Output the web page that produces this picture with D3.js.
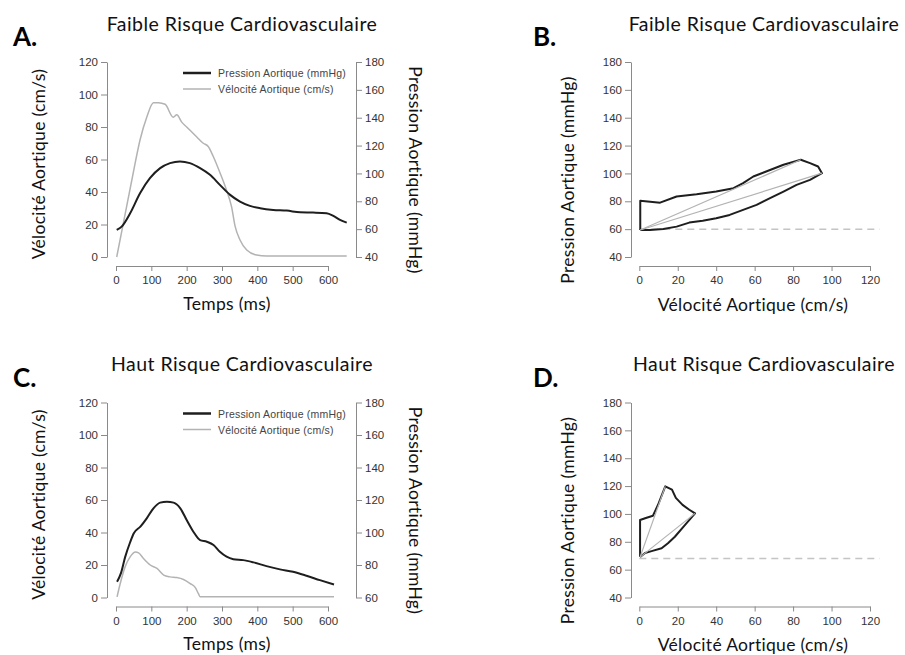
<!DOCTYPE html>
<html><head><meta charset="utf-8">
<script src="https://cdn.jsdelivr.net/npm/d3@7"></script>
<style>
body{margin:0;background:#fff;}
svg{display:block;}
</style></head>
<body>
<svg id="chart" width="905" height="655"></svg>
<script>
// ---------- DATA ----------
// Panel A : low risk, time series
const timeA_vel = [2,30,49,68,87,106,120,139,162,172,186,200,228,247,261,275,294,313,327,337,351,370,398,426,653];
const velA      = [0,31,52,72,86,95,95,94,86,87.5,83,80,74,70,68,62,52,41,31,19,10.5,4.3,1.2,0.6,0.6];
const timeA_pre = [2,16,40,68,96,125,153,181,209,238,266,294,323,351,379,408,445,483,521,558,596,615,634,653];
const presA     = [59.4,61.8,71.4,85.8,96.6,103.8,107.4,108.6,107.4,103.8,99,91.8,84.6,79.8,76.7,75,73.8,73.3,72.1,71.9,71.4,69.5,66.6,64.7];
// Panel C : high risk, time series
const timeC_vel = [3,12,26,40,55,64,78,97,116,135,153,172,191,210,224,233,238,617];
const velC      = [0.4,8.6,19,25,28,27.5,24,20,17.9,13.8,12.7,12.3,11.1,8.6,6.2,2.5,0.4,0.4];
const timeC_pre = [3,14,26,40,50,69,87,106,125,144,163,182,200,219,238,257,276,294,313,332,360,389,426,464,501,539,577,617];
const presC     = [69.7,75,85,94,99.4,103.6,108.7,114.9,118.4,119,118.4,114.9,107.7,100.5,95.3,94.3,92.3,88.1,85.1,83.6,83,81.6,79.3,77.3,75.8,73.4,70.7,68];
// Panel B : low risk, pressure-velocity loop
const velB  = [0.5,0.5,10.8,19.4,29.8,40,49,54,59.3,66,75,84,88.8,93,95,88.8,81.8,75,68,61,54,47,40,33,26,19.4,12.5,5.5,0.5];
const presB = [59.4,80.3,79,83.4,85,87,89.4,93,97.8,101.4,106.2,109.8,107.4,105,100.2,95.4,91.8,87,82.2,77.4,73.8,70.2,67.8,66.1,64.7,61.8,60.1,59.4,59.4];
const dashB = 60;
// Panel D : high risk, pressure-velocity loop
const velD  = [0.4,0.4,3.8,7.1,9.7,13.5,17,19,22.5,26,29,23.7,18.5,14.9,11.6,6.4,3,0.4];
const presD = [69,95.6,97.3,98.7,106.4,119.8,117.5,111.5,106.5,103,100.4,92,83.6,79,75.3,73.3,72,69];
const dashD = 68;
// ticks / labels
const timeTicks = [0,100,200,300,400,500,600];
const velTicks  = [0,20,40,60,80,100,120];
const presTicksA = [40,60,80,100,120,140,160,180];
const presTicksC = [60,80,100,120,140,160,180];
const presTicksLoop = [40,60,80,100,120,140,160,180];
const titles = ["Faible Risque Cardiovasculaire","Haut Risque Cardiovasculaire"];
const letters = ["A.","B.","C.","D."];
const legendLabels = ["Pression Aortique (mmHg)","Vélocité Aortique (cm/s)"];
const xTitleTime = "Temps (ms)";
const velTitle = "Vélocité Aortique (cm/s)";
const presTitle = "Pression Aortique (mmHg)";

// ---------- STYLE ----------
const svg = d3.select("#chart");
const TITLE_FONT = "Lato, 'Open Sans', sans-serif";
const TICK_FONT = "'Liberation Sans', Arial, sans-serif";
const AXIS_COL = "#8a8a8a";
const TICK_COL = "#333";
const BLACK = "#1e1e1e";
const GRAY = "#b3b3b3";

function yAxis(g, scale, x, ticks, side){
  const ax = (side === "left" ? d3.axisLeft(scale) : d3.axisRight(scale))
      .tickValues(ticks).tickSize(6).tickPadding(3).tickSizeOuter(0);
  const a = g.append("g").attr("transform", `translate(${x},0)`).call(ax);
  style(a);
}
function xAxis(g, scale, y, ticks){
  const ax = d3.axisBottom(scale).tickValues(ticks).tickSize(5).tickPadding(5).tickSizeOuter(0);
  const a = g.append("g").attr("transform", `translate(0,${y})`).call(ax);
  style(a);
}
function style(a){
  a.select(".domain").attr("stroke", AXIS_COL).attr("stroke-width", 1);
  a.selectAll(".tick line").attr("stroke", AXIS_COL);
  a.selectAll(".tick text").attr("fill", TICK_COL).style("font-family", TICK_FONT).style("font-size", "11.5px");
}
function text(g, s, x, y, opts){
  const t = g.append("text").attr("x", x).attr("y", y).text(s)
    .style("font-family", opts.font || TITLE_FONT)
    .style("font-size", opts.size + "px")
    .style("font-weight", opts.weight || "normal")
    .style("letter-spacing", (opts.ls || 0) + "px")
    .attr("fill", opts.fill || "#111")
    .attr("text-anchor", opts.anchor || "middle")
    .attr("dominant-baseline", opts.baseline || "auto");
  if (opts.rotate) t.attr("transform", `rotate(${opts.rotate},${x},${y})`);
  return t;
}
const TITLE = {size:19.5, ls:0.45, baseline:"central"};
const AXT = {size:17.5, ls:0.3, baseline:"central"};

// ---------- TIME PANELS (A, C) ----------
function timePanel(dy, tv, v, tp, p, presTicks, presDomain, title, letter){
  const g = svg.append("g").attr("transform", `translate(0,${dy})`);
  const x = d3.scaleLinear().domain([0,600]).range([116,328]);
  const yV = d3.scaleLinear().domain([0,120]).range([257,62]);
  const yP = d3.scaleLinear().domain(presDomain).range([257,62]);
  yAxis(g, yV, 107, velTicks, "left");
  yAxis(g, yP, 356, presTicks, "right");
  xAxis(g, x, 266, timeTicks);
  const lineV = d3.line().curve(d3.curveMonotoneX).x((d,i)=>x(tv[i])).y(d=>yV(d));
  const lineP = d3.line().curve(d3.curveMonotoneX).x((d,i)=>x(tp[i])).y(d=>yP(d));
  g.append("path").attr("d", lineV(v)).attr("fill","none").attr("stroke",GRAY).attr("stroke-width",1.5);
  g.append("path").attr("d", lineP(p)).attr("fill","none").attr("stroke",BLACK).attr("stroke-width",2);
  // legend
  const lx = 183, ly = 73;
  [[BLACK,2.5],[GRAY,1.5]].forEach((s,i)=>{
    g.append("line").attr("x1",lx).attr("x2",lx+28).attr("y1",ly+i*16).attr("y2",ly+i*16)
      .attr("stroke",s[0]).attr("stroke-width",s[1]);
    text(g, legendLabels[i], lx+35, ly+i*16, {font:TICK_FONT, size:10.5, ls:0.2, anchor:"start", baseline:"central", fill:"#444"});
  });
  text(g, title, 242, 23, TITLE);
  text(g, letter, 13, 36, {size:26, weight:"bold", anchor:"start", baseline:"central", fill:"#000"});
  text(g, xTitleTime, 227, 303, AXT);
  text(g, velTitle, 38, 164, Object.assign({rotate:-90}, AXT));
  text(g, presTitle, 415, 170, Object.assign({rotate:90}, AXT));
}

// ---------- LOOP PANELS (B, D) ----------
function loopPanel(dy, v, p, dash, title, letter){
  const g = svg.append("g").attr("transform", `translate(0,${dy})`);
  const x = d3.scaleLinear().domain([0,120]).range([639.3,870]);
  const y = d3.scaleLinear().domain([40,180]).range([257,62]);
  yAxis(g, y, 631, presTicksLoop, "left");
  xAxis(g, x, 266, velTicks);
  g.append("line").attr("x1", x(0)).attr("x2", x(125)).attr("y1", y(dash)).attr("y2", y(dash))
    .attr("stroke","#c4c4c4").attr("stroke-width",1.5).attr("stroke-dasharray","7,5");
  const pts = v.map((d,i)=>[d,p[i]]);
  const line = d3.line().x(d=>x(d[0])).y(d=>y(d[1]));
  g.append("path").attr("d", line(pts)).attr("fill","none").attr("stroke",BLACK).attr("stroke-width",2).attr("stroke-linejoin","round");
  // gray lines: start -> peak pressure, start -> peak velocity
  const start = pts[0];
  const pkP = pts[d3.maxIndex(p)];
  const pkV = pts[d3.maxIndex(v)];
  [pkP, pkV].forEach(e=>{
    g.append("path").attr("d", line([start, e])).attr("fill","none").attr("stroke",GRAY).attr("stroke-width",1.2);
  });
  text(g, title, 764, 23, TITLE);
  text(g, letter, 533, 36, {size:26, weight:"bold", anchor:"start", baseline:"central", fill:"#000"});
  text(g, velTitle, 753, 304, AXT);
  text(g, presTitle, 567, 180, Object.assign({rotate:-90}, AXT));
}

timePanel(0, timeA_vel, velA, timeA_pre, presA, presTicksA, [40,180], titles[0], letters[0]);
loopPanel(0, velB, presB, dashB, titles[0], letters[1]);
timePanel(340.5, timeC_vel, velC, timeC_pre, presC, presTicksC, [60,180], titles[1], letters[2]);
loopPanel(340.5, velD, presD, dashD, titles[1], letters[3]);
</script>
</body></html>
